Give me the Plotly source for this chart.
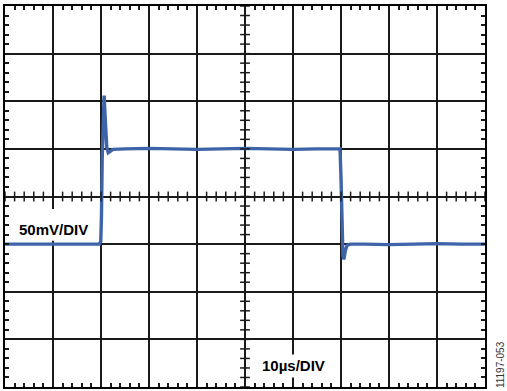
import numpy as np
import plotly.graph_objects as go

# ---- data (read from the scope capture) ----
time_us = [0, 10, 19.7, 19.95, 20.1, 20.25, 20.45, 20.65, 20.9, 21.2, 21.5, 21.9, 22.5,
           25, 30, 35, 40, 45, 50, 55, 60, 65, 69.8,
           70.0, 70.2, 70.4, 70.6, 70.9, 71.3, 72, 75, 80, 85, 90, 95, 100]
volt_mv = [-50, -50, -50, -47, -20, 40, 95, 106, 80, 52, 46, 47, 49.5,
           50, 50.5, 50, 49.5, 50, 50.5, 50, 49.5, 50, 50,
           20, -30, -62, -66, -57, -51, -50, -50, -50.5, -50, -49.5, -50, -50]

x_range = [0, 100]      # 10 us/div, 10 divisions
y_range = [-200, 200]   # 50 mV/div, 8 divisions
x_div, y_div = 10, 50

v_label = "50mV/DIV"
t_label = "10µs/DIV"
fig_id = "11197-053"

trace_color = "#3d64a8"
grid_color = "#1a1a1a"

W, H = 507, 391
ml, mr, mt, mb = 5, 22, 4, 4
pw, ph = W - ml - mr, H - mt - mb

fig = go.Figure()

fig.add_trace(go.Scatter(x=time_us, y=volt_mv, mode="lines",
                         line=dict(color=trace_color, width=3.4),
                         hoverinfo="skip", showlegend=False))

# minor tick marks on the centre graticule lines
xc = (x_range[0] + x_range[1]) / 2
yc = (y_range[0] + y_range[1]) / 2
mx = np.arange(x_range[0], x_range[1] + 1e-9, x_div / 5)
my = np.arange(y_range[0], y_range[1] + 1e-9, y_div / 5)
fig.add_trace(go.Scatter(x=mx, y=np.full_like(mx, yc), mode="markers",
                         marker=dict(symbol="line-ns", size=7, color=grid_color,
                                     line=dict(width=1.5, color=grid_color)),
                         hoverinfo="skip", showlegend=False))
fig.add_trace(go.Scatter(x=np.full_like(my, xc), y=my, mode="markers",
                         marker=dict(symbol="line-ew", size=7, color=grid_color,
                                     line=dict(width=1.5, color=grid_color)),
                         hoverinfo="skip", showlegend=False))

# white label boxes (above grid, below trace)
fig.add_shape(type="rect", layer="between", xref="x", yref="y",
              x0=0, x1=19.6, y0=-46.4, y1=-13, fillcolor="white", line=dict(width=0))
fig.add_shape(type="rect", layer="between", xref="x", yref="y",
              x0=51.0, x1=68.7, y0=-190, y1=-166, fillcolor="white", line=dict(width=0))

font_main = dict(family="Arial, Liberation Sans, sans-serif", size=15, color="black")
fig.add_annotation(x=10.2, y=-34.4, xref="x", yref="y", text=f"<b>{v_label}</b>",
                   showarrow=False, font=font_main, xanchor="center", yanchor="middle")
fig.add_annotation(x=60.0, y=-177.5, xref="x", yref="y", text=f"<b>{t_label}</b>",
                   showarrow=False, font=font_main, xanchor="center", yanchor="middle")
fig.add_annotation(x=(500 - ml) / pw, y=(H - mb - 365) / ph, xref="paper", yref="paper",
                   text=fig_id, showarrow=False, textangle=-90,
                   font=dict(family="Arial, Liberation Sans, sans-serif", size=10, color="#333"),
                   xanchor="center", yanchor="middle")

axis_common = dict(showgrid=True, gridcolor=grid_color, gridwidth=1.7,
                   zeroline=False, showline=True, linecolor="black", linewidth=2,
                   mirror="ticks", ticks="inside", ticklen=4, tickwidth=1.5,
                   tickcolor=grid_color, showticklabels=False, fixedrange=True)

fig.update_xaxes(range=x_range, dtick=x_div, tick0=0,
                 minor=dict(dtick=x_div / 5, ticks="inside", ticklen=4, tickwidth=1.5,
                            tickcolor=grid_color, showgrid=False),
                 **axis_common)
fig.update_yaxes(range=y_range, dtick=y_div, tick0=0,
                 minor=dict(dtick=y_div / 5, ticks="inside", ticklen=4, tickwidth=1.5,
                            tickcolor=grid_color, showgrid=False),
                 **axis_common)

fig.update_layout(width=W, height=H, margin=dict(l=ml, r=mr, t=mt, b=mb),
                  paper_bgcolor="white", plot_bgcolor="white", showlegend=False)

fig.write_html("out.html", post_script="document.body.style.margin='0';",
               config={"displayModeBar": False})
